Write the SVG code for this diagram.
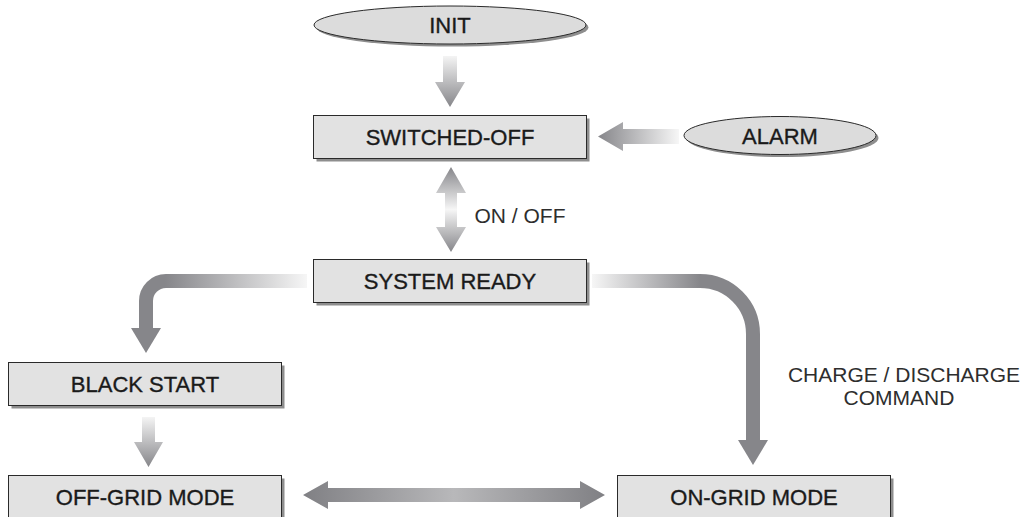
<svg xmlns="http://www.w3.org/2000/svg" width="1030" height="517" viewBox="0 0 1030 517">
<defs>
<style>
.box{fill:#e2e2e2;stroke:#2a2a2a;stroke-width:1}
.shadow{fill:#8e8e8e}
.ell{fill:#dcdcdc;stroke:#2a2a2a;stroke-width:1}
.lbl{font-family:"Liberation Sans",Arial,sans-serif;font-size:22px;fill:#1a1a1a;stroke:#1a1a1a;stroke-width:0.35;text-anchor:middle}
.note{font-family:"Liberation Sans",Arial,sans-serif;font-size:21px;fill:#2e2e2e;text-anchor:middle}
</style>
<linearGradient id="gDown" x1="0" y1="0" x2="0" y2="1">
<stop offset="0" stop-color="#f4f4f4"/><stop offset="1" stop-color="#86868a"/>
</linearGradient>
<linearGradient id="gAlarm" gradientUnits="userSpaceOnUse" x1="598" y1="0" x2="680" y2="0">
<stop offset="0" stop-color="#86868a"/><stop offset="1" stop-color="#f8f8f8"/>
</linearGradient>
<linearGradient id="gOnOff" gradientUnits="userSpaceOnUse" x1="0" y1="167" x2="0" y2="252">
<stop offset="0" stop-color="#86868a"/><stop offset="0.5" stop-color="#f6f6f6"/><stop offset="1" stop-color="#86868a"/>
</linearGradient>
<linearGradient id="gLeft" gradientUnits="userSpaceOnUse" x1="307" y1="0" x2="165" y2="0">
<stop offset="0" stop-color="#f6f6f6"/><stop offset="1" stop-color="#86868a"/>
</linearGradient>
<linearGradient id="gRight" gradientUnits="userSpaceOnUse" x1="592" y1="0" x2="700" y2="0">
<stop offset="0" stop-color="#f6f6f6"/><stop offset="1" stop-color="#86868a"/>
</linearGradient>
<linearGradient id="gHoriz" gradientUnits="userSpaceOnUse" x1="303" y1="0" x2="605" y2="0">
<stop offset="0" stop-color="#808084"/><stop offset="0.5" stop-color="#b8b8ba"/><stop offset="1" stop-color="#808084"/>
</linearGradient>
</defs>

<g id="connectors">
<polygon fill="url(#gDown)" points="443,56 457,56 457,82 465,82 450,107 435,82 443,82"/>
<polygon fill="url(#gAlarm)" points="679,129 623,129 623,122 598,136.5 623,151 623,144 679,144"/>
<polygon fill="url(#gOnOff)" points="451,167 466,193 457,193 457,227 466,227 451,252 436,227 445,227 445,193 436,193"/>
<path d="M307 281 H166 A20 20 0 0 0 146 301 V329" fill="none" stroke="url(#gLeft)" stroke-width="14"/>
<polygon fill="#86868a" points="131,328 161,328 146,353"/>
<path d="M592 281 H700 A53 53 0 0 1 753 334 V441" fill="none" stroke="url(#gRight)" stroke-width="14"/>
<polygon fill="#86868a" points="738,440 768,440 753,465"/>
<polygon fill="url(#gDown)" points="142,417 155,417 155,442 163,442 148.5,467 134,442 142,442"/>
<polygon fill="url(#gHoriz)" points="303,495 328,481 328,488 580,488 580,481 605,495 580,509 580,502 328,502 328,509"/>
<text class="note" x="520" y="223">ON / OFF</text>
<text class="note" x="904" y="382">CHARGE / DISCHARGE</text>
<text class="note" x="899" y="405">COMMAND</text>
</g>

<g id="init">
<ellipse class="shadow" cx="452.5" cy="27.5" rx="136" ry="19"/>
<ellipse class="ell" cx="450" cy="25" rx="136" ry="19"/>
<text class="lbl" x="450" y="33">INIT</text>
</g>

<g id="alarm">
<ellipse class="shadow" cx="782.5" cy="138" rx="96" ry="19"/>
<ellipse class="ell" cx="780" cy="135.5" rx="96" ry="19"/>
<text class="lbl" x="780" y="143.5">ALARM</text>
</g>

<g id="switched-off">
<rect class="shadow" x="316.5" y="118.5" width="273" height="43"/>
<rect class="box" x="313.5" y="115.5" width="273" height="43"/>
<text class="lbl" x="450" y="145">SWITCHED-OFF</text>
</g>

<g id="system-ready">
<rect class="shadow" x="316.5" y="262.5" width="273" height="43"/>
<rect class="box" x="313.5" y="259.5" width="273" height="43"/>
<text class="lbl" x="450" y="289">SYSTEM READY</text>
</g>

<g id="black-start">
<rect class="shadow" x="11.5" y="365.5" width="273" height="43"/>
<rect class="box" x="8.5" y="362.5" width="273" height="43"/>
<text class="lbl" x="145" y="392">BLACK START</text>
</g>

<g id="off-grid">
<rect class="shadow" x="11.5" y="478.5" width="273" height="43"/>
<rect class="box" x="8.5" y="475.5" width="273" height="43"/>
<text class="lbl" x="145" y="505">OFF-GRID MODE</text>
</g>

<g id="on-grid">
<rect class="shadow" x="620.5" y="478.5" width="273" height="43"/>
<rect class="box" x="617.5" y="475.5" width="273" height="43"/>
<text class="lbl" x="754" y="505">ON-GRID MODE</text>
</g>
</svg>
